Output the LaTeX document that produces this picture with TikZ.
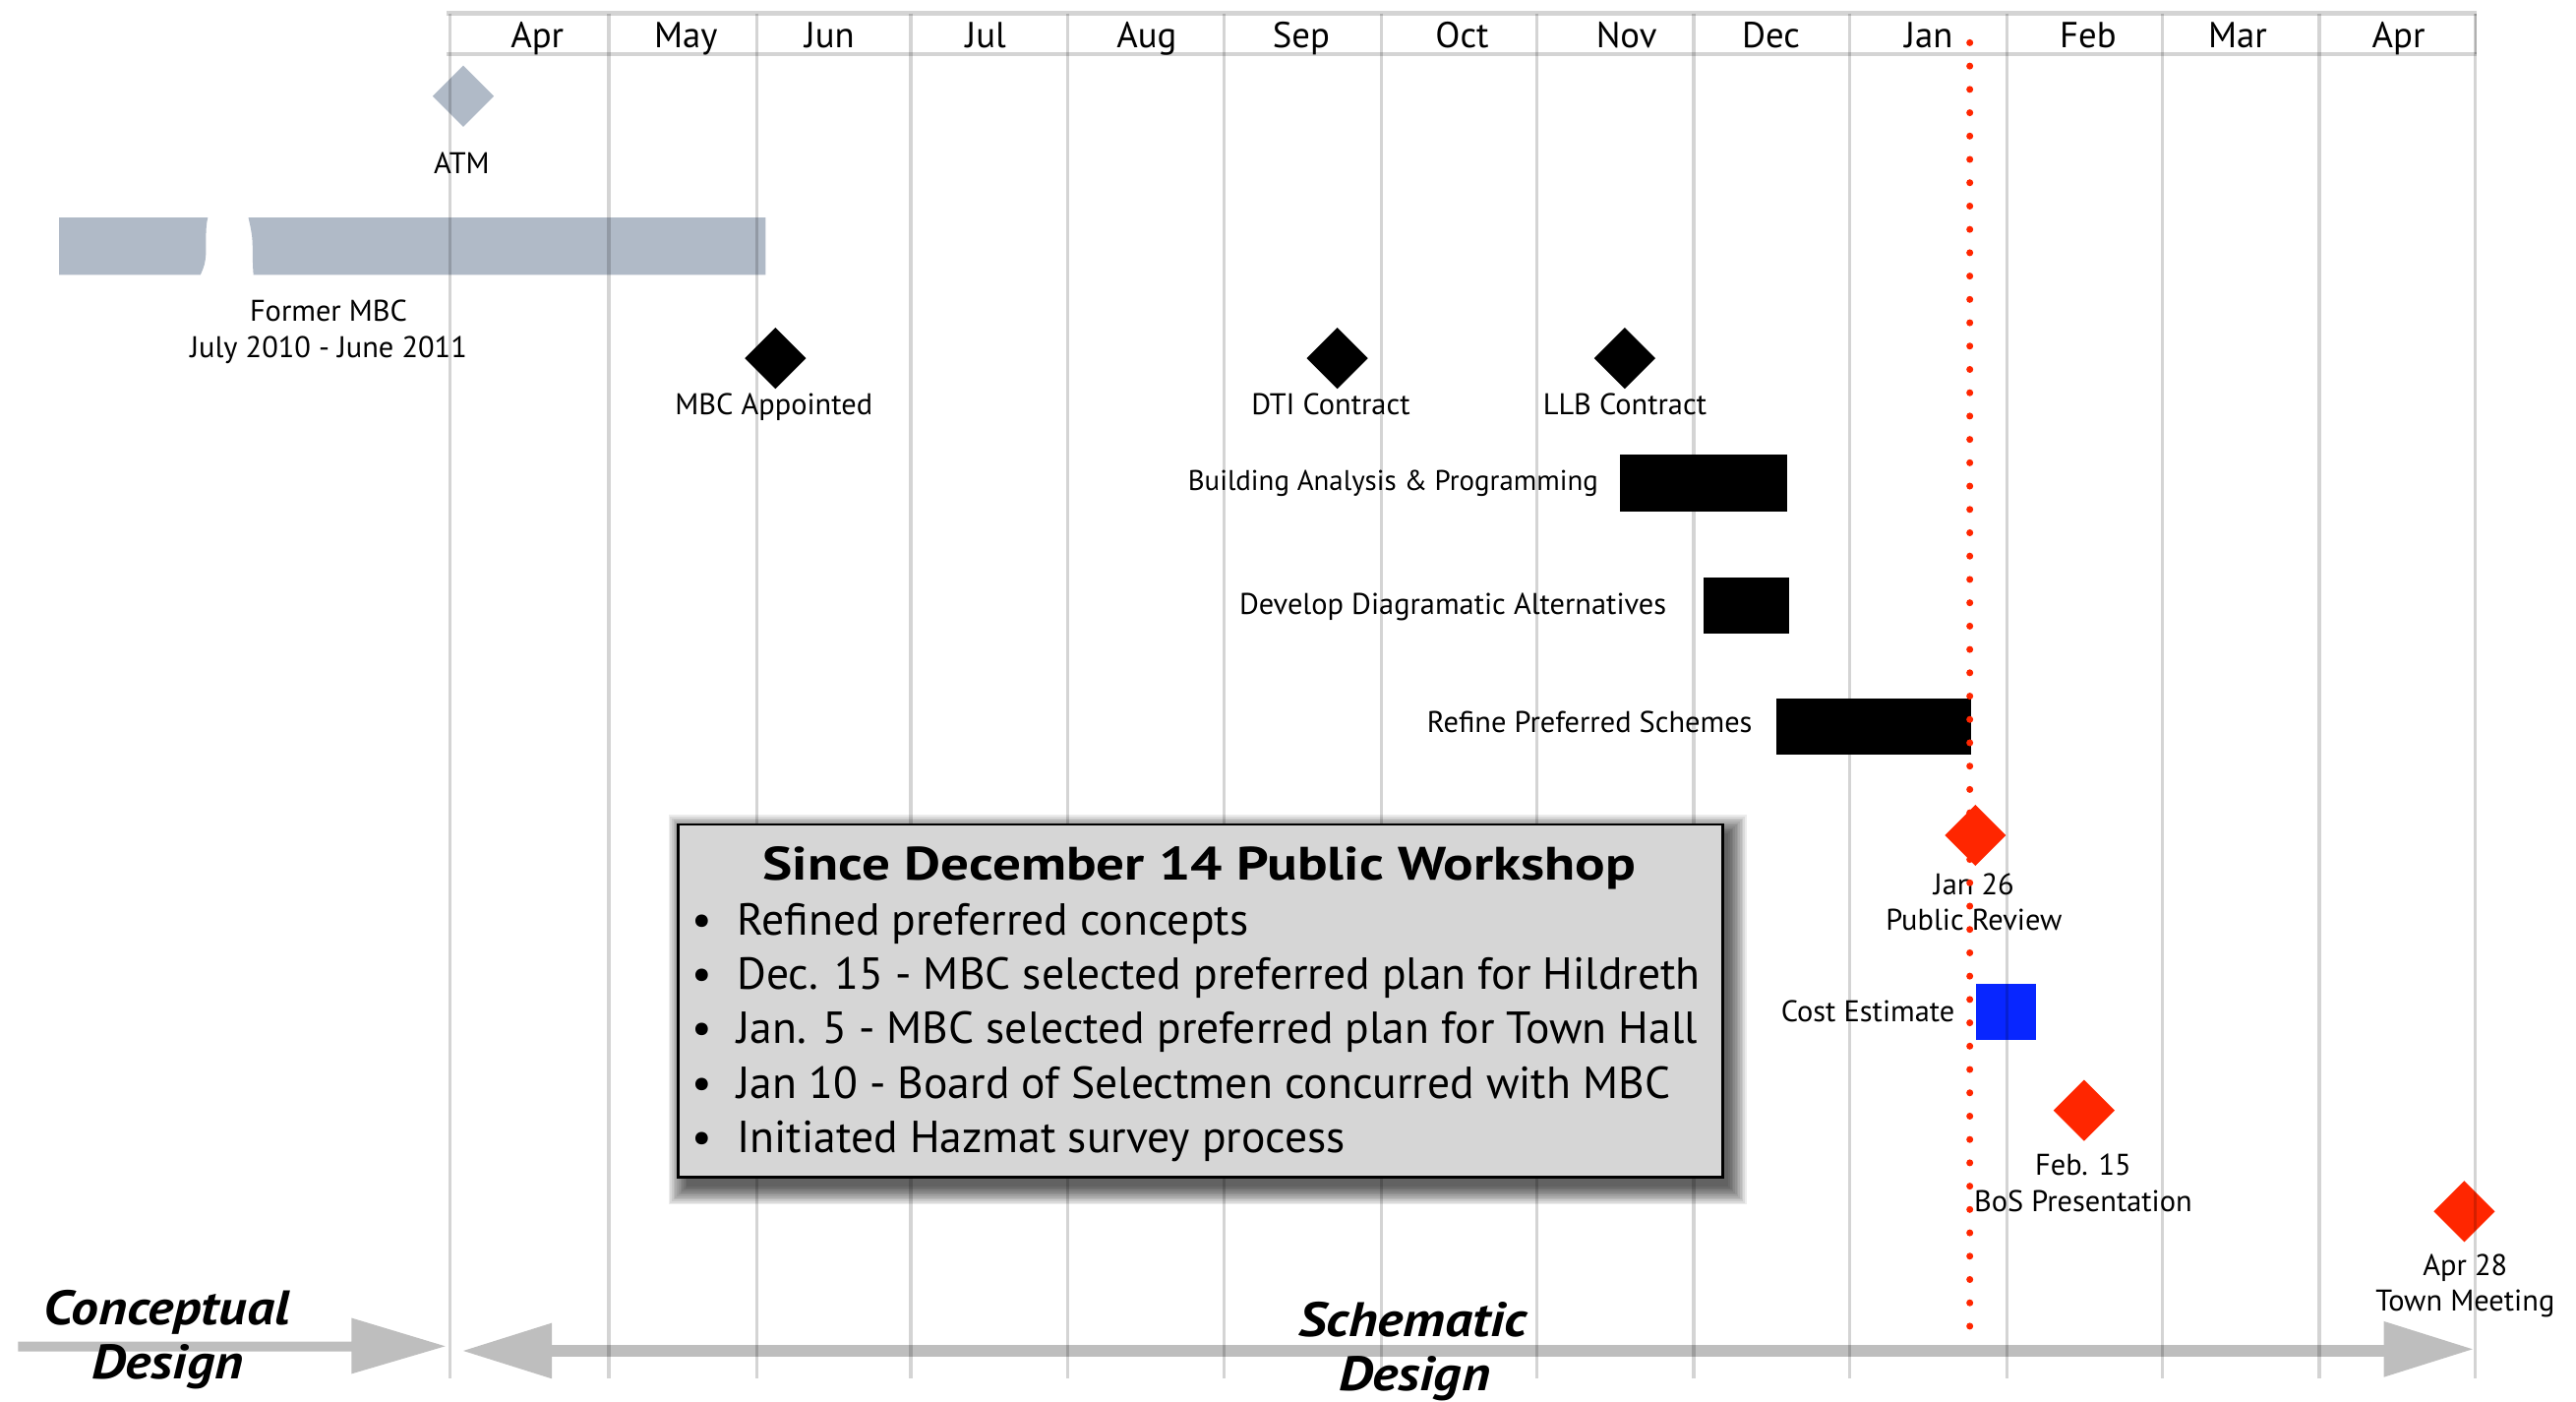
\documentclass[tikz,border=0pt]{standalone}
\usepackage{fontspec}
\setmainfont{PT Sans}
\newfontfamily\widefont{PT Sans}[FakeStretch=1.13]
\newfontfamily\titlefont{PT Sans}[FakeStretch=1.2]
\usetikzlibrary{shapes.geometric}
\definecolor{msred}{RGB}{255,38,0}
\definecolor{msblue}{RGB}{8,38,255}
\definecolor{slate}{RGB}{176,186,199}
\definecolor{arrowgray}{RGB}{190,190,190}
\definecolor{boxgray}{RGB}{214,214,214}
\begin{document}
\begin{tikzpicture}[x=1pt,y=-1pt,
  lbl/.style={inner sep=0pt, font=\fontsize{18.2}{22}\selectfont, anchor=base, align=center},
  lblr/.style={inner sep=0pt, font=\fontsize{18.2}{22}\selectfont, anchor=base east},
  month/.style={inner sep=0pt, font=\fontsize{22}{24}\selectfont, anchor=base},
  milestone/.style={diamond, minimum width=37.4pt, minimum height=37.4pt, inner sep=0pt, draw=none, fill=black},
  taskbar/.style={rectangle, inner sep=0pt, draw=none, fill=black, anchor=north west},
  phase/.style={inner sep=0pt, font=\widefont\fontsize{29.5}{32}\selectfont\bfseries\itshape, anchor=base},
  bulletline/.style={inner sep=0pt, font=\fontsize{27.3}{30}\selectfont, anchor=base west},
  gridline/.style={draw=black, draw opacity=0.17, line width=2pt},
  nowline/.style={draw=msred, line width=4.2pt, line cap=round, dash pattern=on 0pt off 14.2pt},
  phasearrow/.style={fill=arrowgray, draw=none},
]
\useasboundingbox (0,0) rectangle (1568,853);
\fill[white] (0,0) rectangle (1568,853);

% Former MBC bar (with break)
\fill[slate] (36,132.4) -- (126.5,132.4) .. controls (124.5,140) and (126,152) .. (125,158)
  .. controls (124.5,162) and (123,165) .. (122,167.3) -- (36,167.3) -- cycle;
\fill[slate] (151.2,132.4) -- (466,132.4) -- (466,167.3) -- (154.3,167.3)
  .. controls (153.5,160) and (154,150) .. (153.5,145) .. controls (153,140) and (152,136) .. (151.2,132.4) -- cycle;

% milestones
\node[milestone, fill=slate] (atm) at (282,58.5) {};
\node[milestone] (mbc) at (472,218) {};
\node[milestone] (dti) at (814,218) {};
\node[milestone] (llb) at (989,218) {};
\node[milestone, fill=msred] (jan26) at (1202.4,508.3) {};
\node[milestone, fill=msred] (feb15) at (1268.6,675.7) {};
\node[milestone, fill=msred] (apr28) at (1500,737.2) {};

% task bars
\node[taskbar, minimum width=101.5pt, minimum height=34.6pt] (bap) at (986,276.6) {};
\node[taskbar, minimum width=52.2pt, minimum height=34.4pt] (dda) at (1036.5,351) {};
\node[taskbar, minimum width=118.4pt, minimum height=34.4pt] (rps) at (1081,424.6) {};
\node[taskbar, fill=msblue, minimum width=36.4pt, minimum height=34.6pt] (cost) at (1202.6,598.2) {};

% phase arrows
\fill[phasearrow] (11,816.4) -- (214,816.4) -- (214,802) -- (271,819.2) -- (214,836) -- (214,822.4) -- (11,822.4) -- cycle;
\fill[phasearrow] (282,822) -- (336,805) -- (336,818.5) -- (1451,818.5) -- (1451,804) -- (1505,821)
  -- (1451,838) -- (1451,825.5) -- (336,825.5) -- (336,839) -- cycle;

% callout haze and shadow
\fill[white, opacity=0.6] (400,492) rectangle (1060,744);
\foreach \r in {0,...,11} {
  \fill[black, opacity=0.075] (418-\r,507-\r) rectangle (1052+\r,722+\r);
}

% month grid
\foreach \gx in {274,370.5,460.6,554.4,650,745,840.7,935.5,1031,1126,1221.6,1316.2,1411.8,1506.6} {
  \draw[gridline] (\gx,8.2) -- (\gx,839);
}
\draw[gridline, line width=2.8pt] (272,8.2) -- (1507.5,8.2);
\draw[gridline, line width=2.8pt] (272,33) -- (1507.5,33);
\draw[gridline, line width=1.5pt] (1507,8.2) -- (1507,33);

% month labels
\node[month] (m1) at (327,29) {Apr};
\node[month] (m2) at (417.5,29) {May};
\node[month] (m3) at (505,29) {Jun};
\node[month] (m4) at (600,29) {Jul};
\node[month] (m5) at (698,29) {Aug};
\node[month] (m6) at (792,29) {Sep};
\node[month] (m7) at (890,29) {Oct};
\node[month] (m8) at (990,29) {Nov};
\node[month] (m9) at (1078,29) {Dec};
\node[month] (m10) at (1174,29) {Jan};
\node[month] (m11) at (1271,29) {Feb};
\node[month] (m12) at (1362,29) {Mar};
\node[month] (m13) at (1460,29) {Apr};

% labels (base = baseline of last line)
\node[lbl] (atmlbl) at (281,105.8) {ATM};
\node[lbl] (formerlbl) at (200,217.5) {Former MBC\\July 2010 - June 2011};
\node[lbl] (mbclbl) at (471,252.5) {MBC Appointed};
\node[lbl] (dtilbl) at (810,252.5) {DTI Contract};
\node[lbl] (llblbl) at (989,252.5) {LLB Contract};
\node[lblr, font=\fontsize{17.3}{22}\selectfont] (baplbl) at (973,298.4) {Building Analysis \& Programming};
\node[lblr] (ddalbl) at (1014.5,373.7) {Develop Diagramatic Alternatives};
\node[lblr] (rpslbl) at (1066.8,446) {Refine Preferred Schemes};
\node[lbl] (jan26lbl) at (1201.5,566.3) {Jan 26\\Public Review};
\node[lblr] (costlbl) at (1190,621.8) {Cost Estimate};
\node[lbl] (feb15lbl) at (1268,737) {Feb. 15\\BoS Presentation};
\node[lbl] (apr28lbl) at (1500.5,798) {Apr 28\\Town Meeting};

% callout
\node[rectangle, draw=black, line width=1.5pt, fill=boxgray, inner sep=0pt, anchor=north west,
  minimum width=636pt, minimum height=214.6pt] (callout) at (412,501) {};
\node[inner sep=0pt, anchor=base, font=\titlefont\fontsize{28.5}{30}\selectfont\bfseries] (ctitle) at (730,535.3) {Since December 14 Public Workshop};
\node[bulletline] (b1) at (421,568.9) {\makebox[27.5pt][l]{•}Refined preferred concepts};
\node[bulletline] (b2) at (421,601.8) {\makebox[27.5pt][l]{•}Dec. 15 - MBC selected preferred plan for Hildreth};
\node[bulletline] (b3) at (421,635.1) {\makebox[27.5pt][l]{•}Jan. 5 - MBC selected preferred plan for Town Hall};
\node[bulletline] (b4) at (421,668.3) {\makebox[27.5pt][l]{•}Jan 10 - Board of Selectmen concurred with MBC};
\node[bulletline] (b5) at (421,701.2) {\makebox[27.5pt][l]{•}Initiated Hazmat survey process};

% phase labels
\node[phase] (concept1) at (101.5,806.4) {Conceptual};
\node[phase] (concept2) at (102,839.3) {Design};
\node[phase] (schem1) at (860,813.4) {Schematic};
\node[phase] (schem2) at (861,846) {Design};

% today line
\coordinate (nowtop) at (1199,26);
\coordinate (nowbot) at (1199,808);
\draw[nowline] (nowtop) -- (nowbot);
\end{tikzpicture}
\end{document}
